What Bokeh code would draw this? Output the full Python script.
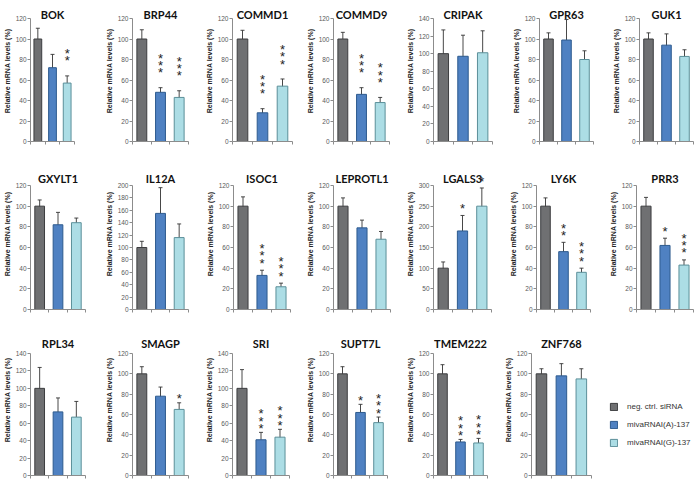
from bokeh.plotting import figure
from bokeh.models import ColumnDataSource, FixedTicker, Whisker, TeeHead, Legend, LegendItem, Range1d
from bokeh.layouts import row, column
from bokeh.embed import file_html
from bokeh.resources import INLINE
from bokeh.core.properties import value

# ---------------- data ----------------
genes = ["BOK", "BRP44", "COMMD1", "COMMD9", "CRIPAK", "GPR63", "GUK1",
         "GXYLT1", "IL12A", "ISOC1", "LEPROTL1", "LGALS3", "LY6K", "PRR3",
         "RPL34", "SMAGP", "SRI", "SUPT7L", "TMEM222", "ZNF768"]
series = ["neg. ctrl. siRNA", "mivaRNAI(A)-137", "mivaRNAI(G)-137"]

neg_mean = [100, 100, 100, 100, 100, 100, 100,
            100, 100, 100, 100, 100, 100, 100,
            100, 100, 100, 100, 100, 100]
neg_err = [10.5, 9, 8.5, 6.5, 27, 6, 6,
           6, 10, 9, 8, 15, 8, 8.5,
           24, 7, 21.5, 7, 9, 5]
a_mean = [72, 48, 28, 46, 97, 99, 94,
          82, 155, 33, 79, 190, 56, 62,
          73, 78, 41, 62, 33, 98]
a_err = [13, 4.5, 4, 6.5, 24, 20, 11,
         12, 41.5, 5, 7.5, 37.5, 9, 7,
         16, 9, 8.5, 8, 2.5, 12]
g_mean = [57, 43, 54, 38, 101, 80, 83,
          84, 116, 22, 68, 250, 36, 43,
          67, 65, 44, 52, 32, 95]
g_err = [7, 6.5, 7, 5, 25, 8.5, 6.5,
         4.5, 22, 3.5, 7.5, 44, 4, 5,
         18, 6.5, 9, 5.5, 4.5, 10]
# number of significance stars
a_stars = [0, 3, 3, 3, 0, 0, 0,
           0, 0, 3, 0, 1, 2, 1,
           0, 0, 3, 1, 3, 0]
g_stars = [2, 3, 3, 3, 0, 0, 0,
           0, 0, 3, 0, 1, 3, 3,
           0, 1, 3, 3, 3, 0]
y_max = [120, 120, 120, 120, 140, 120, 120,
         120, 200, 120, 120, 300, 120, 120,
         140, 120, 140, 120, 120, 120]
y_step = [20, 20, 20, 20, 20, 20, 20,
          20, 20, 20, 20, 50, 20, 20,
          20, 20, 20, 20, 20, 20]

# ---------------- style / geometry (page pixels) ----------------
FILLS = ["#6f7072", "#4f81c2", "#acdde5"]
LINES = ["#3c3d3f", "#2d5a8e", "#5b8f99"]
AXIS_C = "#8c8c8c"
TICK_C = "#595959"

row_top = [0, 158, 324]
row_bot = [158, 324, 480]
plot_top = [18, 185, 353]      # where the y-axis maximum sits
plot_bot = [141, 309, 475]     # y = 0
bounds = [[0, 102, 202, 303, 403, 509, 609, 694],
          [0, 102, 203, 303, 403, 506, 606, 694],
          [0, 102, 202, 303, 403, 501, 694]]
frames_x = [[(25, 74), (126, 188), (226, 292), (327, 389), (427, 492), (533, 593), (633, 693)],
            [(27, 85), (126, 188), (227, 290), (327, 390), (427, 491), (530, 590), (630, 693)],
            [(27, 85), (126, 188), (226, 289), (327, 387), (427, 487), (525, 587)]]
title_gap = [8, 11, 14]        # title centre above the axis top
star_gap = [22.5, 14.5, 11.5]
STAR_FS = 13
STAR_STEP = 7.3
TITLE_FS = 11
LEGEND_X = 603
LEGEND_BOTTOM = 447


def make_panel(i, r, c, last):
    b0, b1 = bounds[r][c], bounds[r][c + 1]
    fl, fr = frames_x[r][c]
    frame_right = b1 if last else fr
    w = b1 - b0
    h = row_bot[r] - row_top[r]
    frame_h = plot_bot[r] - row_top[r]
    plot_h = plot_bot[r] - plot_top[r]
    y_end = y_max[i] * frame_h / plot_h
    x_end = -0.5 + 3 * (frame_right - fl) / (fr - fl)
    p = figure(width=w, height=h, output_backend="svg", toolbar_location=None,
               x_range=Range1d(-0.5, x_end), y_range=Range1d(0, y_end),
               min_border=0,
               min_border_left=fl - b0, min_border_right=b1 - frame_right,
               min_border_top=0,
               min_border_bottom=row_bot[r] - plot_bot[r])
    p.outline_line_color = None
    p.background_fill_color = "white"
    p.border_fill_color = "white"
    p.xgrid.visible = False
    p.ygrid.visible = False

    means = [neg_mean[i], a_mean[i], g_mean[i]]
    errs = [neg_err[i], a_err[i], g_err[i]]
    src = ColumnDataSource(dict(
        x=[0, 1, 2], top=means,
        upper=[m + e for m, e in zip(means, errs)],
        lower=[m - e for m, e in zip(means, errs)],
        fill=FILLS, line=LINES))
    bars = p.vbar(x="x", top="top", bottom=0, width=0.53, fill_color="fill",
                  line_color="line", line_width=1, source=src)
    wk = Whisker(base="x", upper="upper", lower="lower", source=src, dimension="height",
                 line_color="#333333", line_width=0.9,
                 upper_head=TeeHead(size=4, line_color="#333333", line_width=0.9),
                 lower_head=TeeHead(size=4, line_color="#333333", line_width=0.9))
    p.add_layout(wk)

    # panel title (gene name) centred over the middle bar
    tsrc = ColumnDataSource(dict(x=[1], y=[y_max[i]], t=[genes[i]]))
    p.text(x="x", y="y", text="t", source=tsrc,
           y_offset=-title_gap[r] + 0.36 * TITLE_FS,
           text_font=value("Lato"), text_font_style="bold",
           text_font_size=f"{TITLE_FS}px", text_align="center",
           text_baseline="alphabetic", text_color="#111111")

    # significance stars
    sxs, sys_, yo = [], [], []
    for j, n in ((1, a_stars[i]), (2, g_stars[i])):
        for k in range(n):
            sxs.append(j)
            sys_.append(means[j] + errs[j])
            yo.append(-(star_gap[r] + k * STAR_STEP) + 0.58 * STAR_FS)
    if sxs:
        ssrc = ColumnDataSource(dict(x=sxs, y=sys_, yo=yo, t=["*"] * len(sxs)))
        p.text(x="x", y="y", text="t", y_offset="yo", source=ssrc,
               text_font=value("Liberation Sans"), text_font_size=f"{STAR_FS}px",
               text_align="center", text_baseline="alphabetic", text_color="#222222")

    # y axis
    ya = p.yaxis[0]
    ya.bounds = (0, y_max[i])
    ya.ticker = FixedTicker(ticks=list(range(0, y_max[i] + 1, y_step[i])))
    ya.axis_label = "Relative mRNA levels (%)"
    ya.axis_label_text_font = "Liberation Sans"
    ya.axis_label_text_font_style = "bold"
    ya.axis_label_text_font_size = "7px"
    ya.axis_label_text_color = "#222222"
    ya.axis_label_standoff = 2
    ya.major_label_text_font = "Liberation Sans"
    ya.major_label_text_font_size = "6.5px"
    ya.major_label_text_color = TICK_C
    ya.major_label_standoff = 1
    ya.axis_line_color = AXIS_C
    ya.major_tick_line_color = AXIS_C
    ya.major_tick_out = 3
    ya.major_tick_in = 0
    ya.minor_tick_line_color = None

    # x axis: only boundary tick marks (as minor ticks, no labels)
    xa = p.xaxis[0]
    xa.bounds = (-0.5, 2.5)
    xa.ticker = FixedTicker(ticks=[], minor_ticks=[-0.5, 0.5, 1.5, 2.5])
    xa.major_label_standoff = 0
    xa.axis_line_color = AXIS_C
    xa.major_tick_line_color = None
    xa.minor_tick_line_color = AXIS_C
    xa.minor_tick_out = 3
    xa.minor_tick_in = 0

    if last:
        items = [LegendItem(label=series[k], renderers=[bars], index=k) for k in range(3)]
        lg = Legend(items=items,
                    location=(LEGEND_X - fl, plot_bot[r] - LEGEND_BOTTOM),
                    orientation="vertical",
                    border_line_color=None, background_fill_alpha=0,
                    glyph_width=9, glyph_height=9, label_height=9, label_width=10,
                    label_text_font="Liberation Sans", label_text_font_size="8px",
                    label_text_color="#333333", spacing=9, label_standoff=9,
                    padding=0, margin=0)
        p.add_layout(lg)
    return p


rows = []
idx = 0
for r in range(3):
    figs = []
    for c in range(len(frames_x[r])):
        last = (idx == len(genes) - 1)
        figs.append(make_panel(idx, r, c, last))
        idx += 1
    rows.append(row(*figs, spacing=0))

layout = column(*rows, spacing=0)

with open("out.html", "w") as f:
    f.write(file_html(layout, INLINE))
